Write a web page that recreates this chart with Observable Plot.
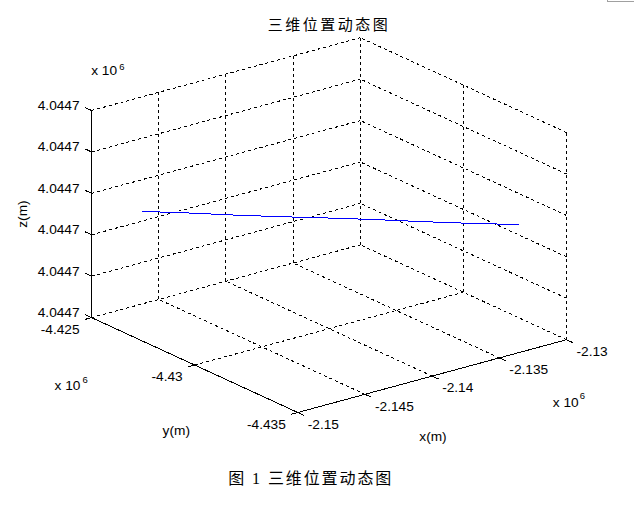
<!DOCTYPE html>
<html><head><meta charset="utf-8">
<script src="https://cdn.jsdelivr.net/npm/d3@7"></script>
<script src="https://cdn.jsdelivr.net/npm/@observablehq/plot@0.6"></script>
<style>
body{margin:0;background:#fff;}
#wrap{position:relative;width:637px;height:510px;overflow:hidden;}
#corner{position:absolute;left:607px;top:-1px;width:26px;height:2px;border-left:1px solid #a0a0a0;border-bottom:1px solid #a0a0a0;}
</style></head><body><div id="wrap"><div id="chart"></div><div id="corner"></div></div>
<script>
// ---- text ----
const titleText = "三维位置动态图";
const captionText = "图 1 三维位置动态图";
const xLabel = "x(m)", yLabel = "y(m)", zLabel = "z(m)";
const exponentBase = "x 10", exponentPower = "6";

// ---- axes ----
const xDomain = [-2150000, -2130000];
const yDomain = [-4435000, -4425000];
const zDomain = [4044700, 4044705];
const xTicks = [-2150000, -2145000, -2140000, -2135000, -2130000];
const xTickLabels = ["-2.15", "-2.145", "-2.14", "-2.135", "-2.13"];
const yTicks = [-4435000, -4430000, -4425000];
const yTickLabels = ["-4.435", "-4.43", "-4.425"];
const zTicks = [4044700, 4044701, 4044702, 4044703, 4044704, 4044705];
const zTickLabels = ["4.0447", "4.0447", "4.0447", "4.0447", "4.0447", "4.0447"];

// ---- trajectory ----
const trackX = [-2148070, -2146040, -2144010, -2141980, -2139950, -2137910, -2135880, -2133840, -2131800];
const trackY = [-4426200, -4427150, -4428110, -4429060, -4430020, -4430970, -4431920, -4432880, -4433830];
const trackZ = [4044702.67, 4044702.67, 4044702.66, 4044702.66, 4044702.67, 4044702.67, 4044702.66, 4044702.66, 4044702.67];

// ---- view (MATLAB default 3-D view) ----
const azimuth = -37.5, elevation = 30;

const az = azimuth * Math.PI / 180, el = elevation * Math.PI / 180;
function proj(x, y, z) {
  const fx = (x - xDomain[0]) / (xDomain[1] - xDomain[0]);
  const fy = (y - yDomain[0]) / (yDomain[1] - yDomain[0]);
  const fz = (z - zDomain[0]) / (zDomain[1] - zDomain[0]);
  const u = fx * Math.cos(az) + fy * Math.sin(az);
  const v = -fx * Math.sin(az) * Math.sin(el) + fy * Math.cos(az) * Math.sin(el) + fz * Math.cos(el);
  return [u, v];
}
const [x0, x1] = xDomain, [y0, y1] = yDomain, [z0, z1] = zDomain;
const corners = [];
for (const x of xDomain) for (const y of yDomain) for (const z of zDomain) corners.push(proj(x, y, z));
const uExt = d3.extent(corners, d => d[0]);
const vExt = d3.extent(corners, d => d[1]);

function seg(a, b) {
  const p = proj(...a), q = proj(...b);
  return {x1: p[0], y1: p[1], x2: q[0], y2: q[1]};
}

// grid on the three back planes
const grid = [];
for (const x of xTicks) grid.push(seg([x, y1, z0], [x, y1, z1]));   // back wall y = ymax
for (const z of zTicks) grid.push(seg([x0, y1, z], [x1, y1, z]));
for (const y of yTicks) grid.push(seg([x1, y, z0], [x1, y, z1]));   // side wall x = xmax
for (const z of zTicks) grid.push(seg([x1, y0, z], [x1, y1, z]));
for (const x of xTicks) grid.push(seg([x, y0, z0], [x, y1, z0]));   // floor
for (const y of yTicks) grid.push(seg([x0, y, z0], [x1, y, z0]));

// axis lines
const axes = [
  seg([x0, y1, z0], [x0, y1, z1]),   // z axis
  seg([x0, y1, z0], [x0, y0, z0]),   // y axis
  seg([x0, y0, z0], [x1, y0, z0])    // x axis
];
const xr = x1 - x0, yr = y1 - y0;
const ticks = [
  ...zTicks.map(z => seg([x0, y1, z], [x0, y1 + 0.031 * yr, z])),
  ...yTicks.map(y => seg([x0, y, z0], [x0 - 0.025 * xr, y, z0])),
  ...xTicks.map(x => seg([x, y0, z0], [x, y0 - 0.031 * yr, z0]))
];
const P = (a) => { const p = proj(...a); return {x: p[0], y: p[1]}; };
const zLab = zTicks.map((z, i) => ({...P([x0, y1, z]), t: zTickLabels[i]}));
const yLab = yTicks.map((y, i) => ({...P([x0, y, z0]), t: yTickLabels[i]}));
const xLab = xTicks.map((x, i) => ({...P([x, y0, z0]), t: xTickLabels[i]}));
const track = trackX.map((x, i) => P([x, trackY[i], trackZ[i]]));

const font = "'Liberation Sans', Arial, sans-serif";
const fs = 13.7;
const T = (data, opts) => Plot.text(data, {x: "x", y: "y", fill: "black", fontSize: fs, ...opts});

const chart = Plot.plot({
  width: 637, height: 510,
  marginLeft: 91.1, marginRight: 71, marginTop: 37.2, marginBottom: 98,
  x: {domain: uExt, axis: null},
  y: {domain: [0, vExt[1]], axis: null},
  style: {fontFamily: font, fontSize: fs + "px", background: "white", color: "black"},
  marks: [
    Plot.link(grid, {x1: "x1", y1: "y1", x2: "x2", y2: "y2", stroke: "black", strokeWidth: 1, strokeDasharray: "3,3", shapeRendering: "crispEdges"}),
    Plot.link(axes, {x1: "x1", y1: "y1", x2: "x2", y2: "y2", stroke: "black", strokeWidth: 1, shapeRendering: "crispEdges"}),
    Plot.link(ticks, {x1: "x1", y1: "y1", x2: "x2", y2: "y2", stroke: "black", strokeWidth: 1, shapeRendering: "crispEdges"}),
    Plot.line(track, {x: "x", y: "y", stroke: "#0000ff", strokeWidth: 1, shapeRendering: "crispEdges"}),
    T(zLab, {text: "t", textAnchor: "end", dx: -12, dy: -5}),
    T(yLab, {text: "t", textAnchor: "end", dx: -12, dy: 12}),
    T(xLab, {text: "t", textAnchor: "start", dx: 10, dy: 12}),
    // exponent labels
    T([P([x0, y1, z1])], {text: () => exponentBase, textAnchor: "start", dx: -0.4, dy: -40}),
    T([P([x0, y1, z1])], {text: () => exponentPower, textAnchor: "start", dx: 27.7, dy: -43.6, fontSize: 9.5}),
    T([P([x0, y1, z0])], {text: () => exponentBase, textAnchor: "start", dx: -37.1, dy: 68}),
    T([P([x0, y1, z0])], {text: () => exponentPower, textAnchor: "start", dx: -9.1, dy: 62, fontSize: 9.5}),
    T([P([x1, y0, z0])], {text: () => exponentBase, textAnchor: "start", dx: -13.7, dy: 62.6}),
    T([P([x1, y0, z0])], {text: () => exponentPower, textAnchor: "start", dx: 13.3, dy: 55.9, fontSize: 9.5}),
    // axis labels
    T([P([x0, y1, (z0 + z1) / 2])], {text: () => zLabel, rotate: -90, dx: -69.4, dy: 0}),
    T([P([x0, (y0 + y1) / 2, z0])], {text: () => yLabel, dx: -18.4, dy: 66}),
    T([P([(x0 + x1) / 2, y0, z0])], {text: () => xLabel, dx: 0.85, dy: 60.5}),
    // title and caption
    Plot.text([titleText], {frameAnchor: "top", dy: -18, fontSize: 15, fill: "black", fontFamily: "'Noto Sans CJK SC', sans-serif"}),
    Plot.text([captionText], {frameAnchor: "bottom-left", textAnchor: "start", dx: 136.7, dy: 71.7, fontSize: 16, fill: "black", fontFamily: "'Liberation Serif', 'Noto Sans CJK SC', serif"})
  ]
});
d3.select(chart).selectAll("text").each(function () {
  if (this.textContent === titleText) this.style.letterSpacing = "2.5px";
  if (this.textContent === captionText) this.style.letterSpacing = "1.9px";
});
document.getElementById("chart").appendChild(chart);
</script></body></html>
